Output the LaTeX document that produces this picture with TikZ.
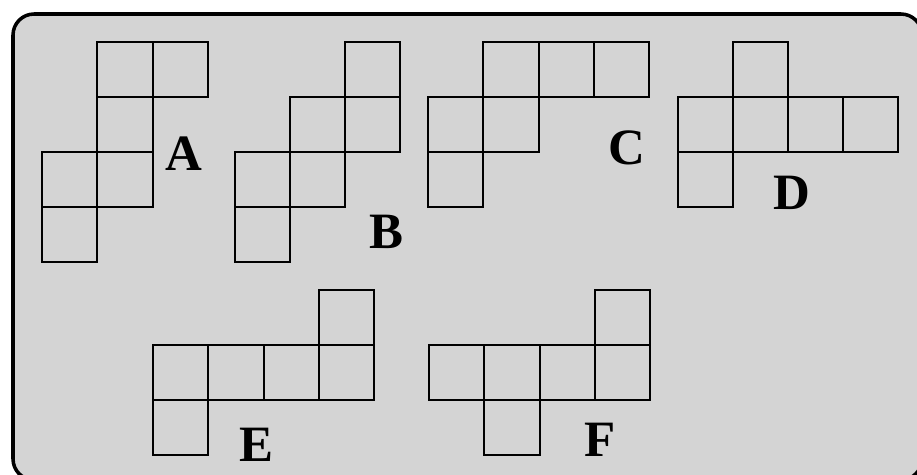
\documentclass[tikz,border=0pt]{standalone}
\usepackage{fontspec}
\setmainfont{Liberation Serif}
\usepackage{tikz}
\definecolor{panelgray}{RGB}{212,212,212}

\begin{document}
\begin{tikzpicture}[x=0.02cm, y=-0.02cm,
    cell/.style={draw, line width=1.1pt},
    letter/.style={inner sep=0pt, font=\fontsize{29}{29}\selectfont\bfseries}
]
\useasboundingbox (0,0) rectangle (917,474);
\clip (0,0) rectangle (917,474);
\draw[line width=2pt, fill=panelgray, rounded corners=12pt] (13,14) rectangle (922,480);

% top row of nets
\foreach \c/\r in {1/0,2/0,1/1,0/2,1/2,0/3}
  \draw[cell] (42+55.3*\c,42+55*\r) rectangle ++(55.3,55);
\foreach \c/\r in {2/0,1/1,2/1,0/2,1/2,0/3}
  \draw[cell] (235+55*\c,42+55*\r) rectangle ++(55,55);
\foreach \c/\r in {1/0,2/0,3/0,0/1,1/1,0/2}
  \draw[cell] (428+55.3*\c,42+55*\r) rectangle ++(55.3,55);
\foreach \c/\r in {1/0,0/1,1/1,2/1,3/1,0/2}
  \draw[cell] (678+55*\c,42+55*\r) rectangle ++(55,55);

% bottom row of nets
\foreach \c/\r in {3/0,0/1,1/1,2/1,3/1,0/2}
  \draw[cell] (153+55.3*\c,290+55*\r) rectangle ++(55.3,55);
\foreach \c/\r in {3/0,0/1,1/1,2/1,3/1,1/2}
  \draw[cell] (429+55.3*\c,290+55*\r) rectangle ++(55.3,55);

\node[letter] (labA) at (184,154) {A};
\node[letter] (labB) at (386,232) {B};
\node[letter] (labC) at (627,148) {C};
\node[letter] (labD) at (792,193) {D};
\node[letter] (labE) at (256,445) {E};
\node[letter] (labF) at (600,440) {F};
\end{tikzpicture}
\end{document}
